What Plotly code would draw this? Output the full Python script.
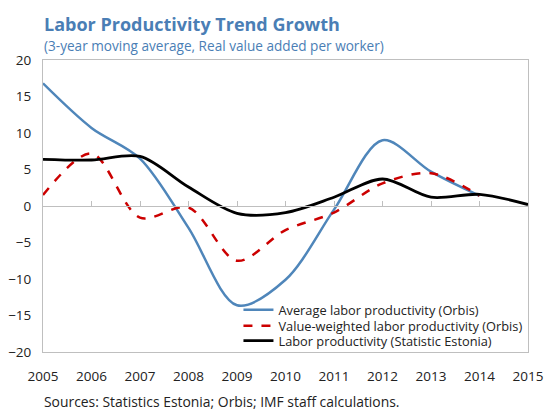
import plotly.graph_objects as go

years = [2005, 2006, 2007, 2008, 2009, 2010, 2011, 2012, 2013, 2014, 2015]

avg_orbis = [16.8, 10.7, 6.5, -3.0, -13.6, -10.1, -0.5, 9.0, 4.7, 1.4]
weighted_orbis = [1.5, 7.2, -1.6, -0.2, -7.5, -3.3, -0.9, 3.1, 4.5, 1.4]
stat_estonia = [6.4, 6.3, 6.8, 2.6, -1.0, -0.9, 1.2, 3.7, 1.2, 1.6, 0.2]

names = ["Average labor productivity (Orbis)",
         "Value-weighted labor productivity (Orbis)",
         "Labor productivity (Statistic Estonia)"]

font_name = "Open Sans"
title_blue = "#4A7EB5"
grey = "#BFBFBF"

fig = go.Figure()

fig.add_trace(go.Scatter(x=years[:len(avg_orbis)], y=avg_orbis, name=names[0],
                         mode="lines", legend="legend",
                         line=dict(color="#4F86BA", width=2.5,
                                   shape="spline", smoothing=0.9)))
fig.add_trace(go.Scatter(x=years[:len(weighted_orbis)], y=weighted_orbis,
                         name=names[1], mode="lines", legend="legend2",
                         line=dict(color="#CC0000", width=2.5, dash="dash",
                                   shape="spline", smoothing=0.9)))
fig.add_trace(go.Scatter(x=years, y=stat_estonia, name=names[2], mode="lines",
                         legend="legend3",
                         line=dict(color="black", width=2.8,
                                   shape="spline", smoothing=0.9)))

# axis through zero carrying the year tick marks
fig.add_trace(go.Scatter(x=[years[0], years[-1]], y=[None, None], xaxis="x2",
                         showlegend=False, hoverinfo="skip"))

legend_style = dict(x=0.403, xanchor="left", yanchor="middle",
                    bgcolor="rgba(255,255,255,0)", font=dict(size=12.8))

fig.update_layout(
    width=545, height=410,
    margin=dict(l=43, r=17, t=60, b=58, autoexpand=False),
    plot_bgcolor="white", paper_bgcolor="white",
    font=dict(family=font_name, size=13, color="#222222"),
    xaxis=dict(range=[2005, 2015], dtick=1, showgrid=False, zeroline=False,
               showline=True, linecolor=grey, mirror=True, automargin=False,
               ticks="outside", ticklen=12, tickcolor="rgba(0,0,0,0)",
               tickfont=dict(size=13.5)),
    xaxis2=dict(range=[2005, 2015], dtick=1, overlaying="x", anchor="free",
                position=0.5, side="bottom", showgrid=False, zeroline=False,
                showline=True, linecolor=grey, ticks="inside", ticklen=5,
                tickcolor=grey, showticklabels=False, automargin=False),
    yaxis=dict(range=[-20, 20], dtick=5, showgrid=False, zeroline=False,
               showline=True, linecolor=grey, mirror=True, automargin=False,
               ticks="outside", ticklen=8, tickcolor="rgba(0,0,0,0)",
               tickfont=dict(size=13.5)),
    legend=dict(y=0.144, **legend_style),
    legend2=dict(y=0.089, **legend_style),
    legend3=dict(y=0.038, **legend_style),
    showlegend=True,
)

fig.add_annotation(text="<b>Labor Productivity Trend Growth</b>",
                   xref="paper", yref="paper", x=-0.003, y=1.123,
                   xanchor="left", yanchor="middle", showarrow=False,
                   font=dict(family=font_name, size=18, color=title_blue))
fig.add_annotation(text="(3-year moving average, Real value added per worker)",
                   xref="paper", yref="paper", x=-0.003, y=1.048,
                   xanchor="left", yanchor="middle", showarrow=False,
                   font=dict(family=font_name, size=13.6, color=title_blue))
fig.add_annotation(text="Sources: Statistics Estonia; Orbis; IMF staff calculations.",
                   xref="paper", yref="paper", x=-0.003, y=-0.168,
                   xanchor="left", yanchor="middle", showarrow=False,
                   font=dict(family=font_name, size=13.9, color="#222222"))

# drop the default page margin so the figure fills the window exactly
fig.write_html("out.html", config={"displayModeBar": False},
               post_script="document.body.style.margin='0';"
                           "document.body.style.overflow='hidden';")
